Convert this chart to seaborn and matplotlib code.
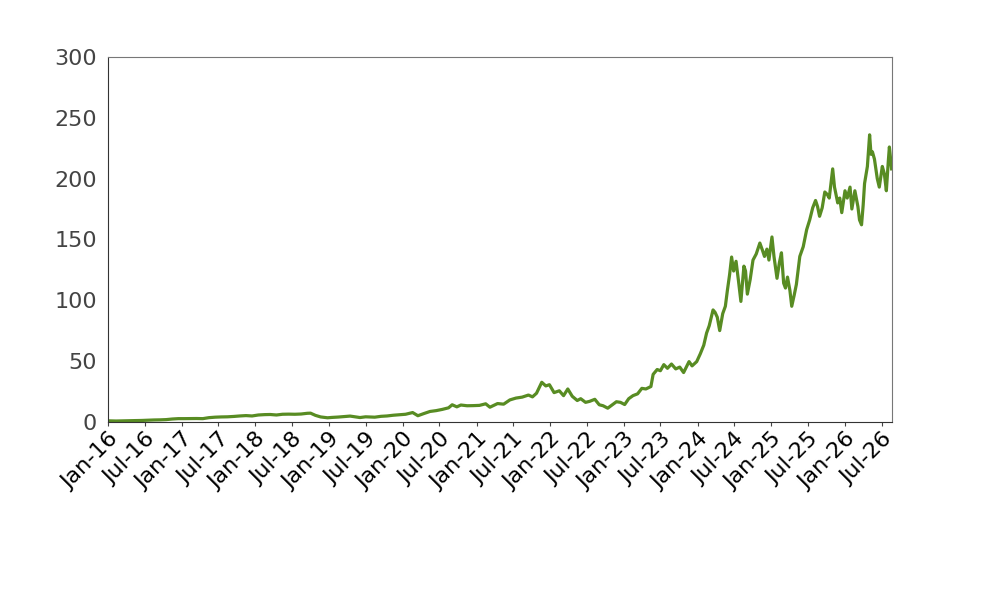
import matplotlib
matplotlib.use("Agg")
import matplotlib.pyplot as plt
import matplotlib.dates as mdates
import pandas as pd
import seaborn as sns

# price series
dates = [
    "2016-01-04", "2016-02-10", "2016-03-15", "2016-04-15", "2016-05-15", "2016-06-15",
    "2016-07-15", "2016-08-15", "2016-09-15", "2016-10-15", "2016-11-15", "2016-12-15",
    "2017-01-15", "2017-02-15", "2017-03-15", "2017-04-15", "2017-05-15", "2017-06-15",
    "2017-07-15", "2017-08-15", "2017-09-15", "2017-10-15", "2017-11-15", "2017-12-15",
    "2018-01-15", "2018-02-15", "2018-03-15", "2018-04-15", "2018-05-15", "2018-06-15",
    "2018-07-15", "2018-08-15", "2018-09-15", "2018-10-01", "2018-10-25", "2018-11-20",
    "2018-12-24", "2019-01-15", "2019-02-15", "2019-03-15", "2019-04-15", "2019-05-15",
    "2019-06-03", "2019-07-01", "2019-08-15", "2019-09-15", "2019-10-15", "2019-11-15",
    "2019-12-15", "2020-01-15", "2020-02-19", "2020-03-16", "2020-04-15", "2020-05-15",
    "2020-06-15", "2020-07-15", "2020-08-15", "2020-09-02", "2020-09-25", "2020-10-15",
    "2020-11-15", "2020-12-15", "2021-01-15", "2021-02-15", "2021-03-08", "2021-04-15",
    "2021-05-15", "2021-06-15", "2021-07-15", "2021-08-15", "2021-09-15", "2021-10-05",
    "2021-10-25", "2021-11-20", "2021-12-10", "2021-12-28", "2022-01-20", "2022-02-15",
    "2022-03-08", "2022-03-29", "2022-04-20", "2022-05-15", "2022-06-01", "2022-06-25",
    "2022-07-15", "2022-08-10", "2022-09-01", "2022-09-20", "2022-10-13", "2022-11-01",
    "2022-11-25", "2022-12-15", "2023-01-05", "2023-01-25", "2023-02-15", "2023-03-10",
    "2023-03-31", "2023-04-20", "2023-05-15", "2023-05-26", "2023-06-15", "2023-07-01",
    "2023-07-18", "2023-08-05", "2023-08-25", "2023-09-15", "2023-10-05", "2023-10-24",
    "2023-11-20", "2023-12-05", "2023-12-28", "2024-01-15", "2024-02-01", "2024-02-15",
    "2024-02-28", "2024-03-18", "2024-03-28", "2024-04-08", "2024-04-20", "2024-05-05",
    "2024-05-18", "2024-05-28", "2024-06-08", "2024-06-18", "2024-06-28", "2024-07-10",
    "2024-07-22", "2024-08-03", "2024-08-18", "2024-08-26", "2024-09-04", "2024-09-18",
    "2024-10-02", "2024-10-18", "2024-11-05", "2024-11-18", "2024-11-28", "2024-12-10",
    "2024-12-20", "2025-01-04", "2025-01-14", "2025-01-29", "2025-02-10", "2025-02-20",
    "2025-03-03", "2025-03-12", "2025-03-22", "2025-04-03", "2025-04-12", "2025-04-24",
    "2025-05-05", "2025-05-22", "2025-06-08", "2025-06-25", "2025-07-10", "2025-07-25",
    "2025-08-08", "2025-08-18", "2025-08-28", "2025-09-10", "2025-09-23", "2025-10-05",
    "2025-10-15", "2025-10-22", "2025-11-01", "2025-11-10", "2025-11-26", "2025-12-06",
    "2025-12-16", "2026-01-01", "2026-01-12", "2026-01-26", "2026-02-04", "2026-02-19",
    "2026-03-06", "2026-03-14", "2026-03-24", "2026-04-01", "2026-04-08", "2026-04-22",
    "2026-05-03", "2026-05-10", "2026-05-17", "2026-05-27", "2026-06-10", "2026-06-20",
    "2026-07-05", "2026-07-15", "2026-07-25", "2026-08-04", "2026-08-09", "2026-08-20",
]
prices = [
    0.8, 0.65, 0.8, 0.9, 1.0, 1.1,
    1.3, 1.5, 1.6, 1.8, 2.3, 2.6,
    2.6, 2.7, 2.7, 2.6, 3.4, 3.8,
    4.0, 4.1, 4.4, 4.8, 5.1, 4.8,
    5.6, 5.9, 6.0, 5.6, 6.2, 6.3,
    6.2, 6.4, 7.0, 7.1, 5.3, 4.0,
    3.3, 3.6, 3.9, 4.3, 4.7, 4.0,
    3.5, 4.1, 3.8, 4.5, 4.8, 5.4,
    5.8, 6.2, 7.6, 5.0, 6.8, 8.5,
    9.2, 10.2, 11.5, 14.0, 12.3, 13.8,
    13.2, 13.3, 13.5, 14.8, 12.0, 15.0,
    14.5, 18.0, 19.5, 20.3, 22.0, 20.5,
    23.5, 32.5, 29.5, 30.5, 24.0, 25.5,
    21.5, 27.0, 21.0, 17.5, 19.0, 16.0,
    16.8, 18.5, 14.0, 13.2, 11.2, 13.5,
    16.5, 16.0, 14.2, 19.0, 21.5, 23.0,
    27.5, 27.0, 29.0, 39.0, 43.0, 42.0,
    47.0, 44.0, 47.5, 43.5, 45.0, 40.5,
    49.5, 46.0, 49.5, 56.0, 63.0, 73.0,
    79.0, 92.0, 90.0, 86.0, 75.0, 89.0,
    95.0, 108.0, 121.0, 135.5, 124.0, 132.0,
    116.0, 99.0, 128.0, 124.0, 105.0, 117.0,
    133.0, 138.0, 147.0, 141.0, 136.0, 142.0,
    133.0, 152.0, 136.0, 118.0, 131.0, 139.0,
    114.0, 110.0, 119.0, 108.0, 95.0, 104.0,
    113.0, 136.0, 144.0, 158.0, 166.0, 176.0,
    182.0, 177.0, 169.0, 176.0, 189.0, 187.0,
    184.0, 194.0, 208.0, 193.0, 180.0, 184.0,
    172.0, 190.0, 184.0, 193.0, 175.0, 190.0,
    177.0, 166.0, 162.0, 178.0, 196.0, 210.0,
    236.0, 220.0, 222.0, 216.0, 200.0, 193.0,
    210.0, 204.0, 190.0, 215.0, 226.0, 208.0,
]
y_ticks = [0, 50, 100, 150, 200, 250, 300]

df = pd.DataFrame({"date": pd.to_datetime(dates), "price": prices})

fig = plt.figure(figsize=(10, 6), dpi=100)
ax = fig.add_axes([0.108, 0.297, 0.784, 0.608])
sns.lineplot(data=df, x="date", y="price", color="#588c23", linewidth=2.3, ax=ax)

ax.set_xlim(pd.Timestamp("2016-01-01"), pd.Timestamp("2026-08-22"))
ax.set_ylim(0, 300)
ax.set_yticks(y_ticks)
ax.set_xlabel("")
ax.set_ylabel("")

ax.xaxis.set_major_locator(mdates.MonthLocator(bymonth=[1, 7]))
ax.xaxis.set_major_formatter(mdates.DateFormatter("%b-%y"))
plt.setp(ax.get_xticklabels(), rotation=45, ha="right", rotation_mode="anchor",
         fontsize=16, color="black")
ax.tick_params(axis="x", length=3, color="#444444", pad=2)
ax.tick_params(axis="y", length=0, pad=8, labelsize=16, labelcolor="#444444")

for side in ["top", "right"]:
    ax.spines[side].set_color("#777777")
for side in ["left", "bottom"]:
    ax.spines[side].set_color("#333333")

fig.savefig("out.png", dpi=100)
